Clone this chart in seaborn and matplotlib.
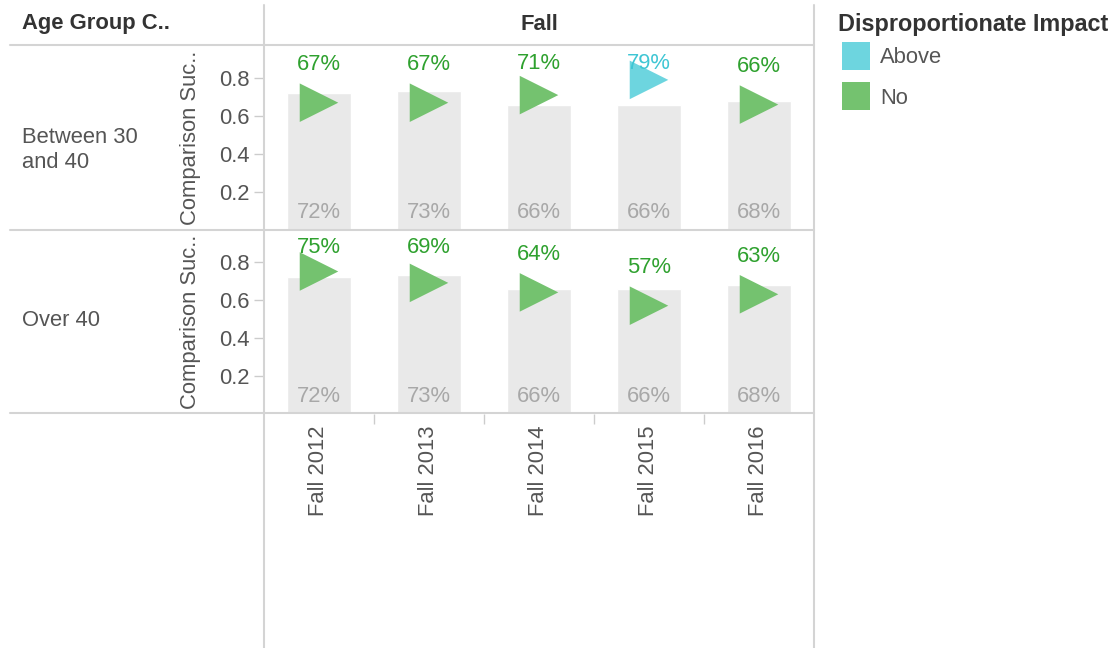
import numpy as np
import pandas as pd
import matplotlib
matplotlib.use("Agg")
import matplotlib.pyplot as plt
from matplotlib.lines import Line2D
from matplotlib.patches import Patch
import seaborn as sns

# ---------------- data ----------------
terms = ["Fall 2012", "Fall 2013", "Fall 2014", "Fall 2015", "Fall 2016"]
age_groups = ["Between 30\nand 40", "Over 40"]
comparison_3040 = [0.72, 0.73, 0.66, 0.66, 0.68]
comparison_40 = [0.72, 0.73, 0.66, 0.66, 0.68]
success_3040 = [0.67, 0.67, 0.71, 0.79, 0.66]
success_40 = [0.75, 0.69, 0.64, 0.57, 0.63]
impact_3040 = ["No", "No", "No", "Above", "No"]
impact_40 = ["No", "No", "No", "No", "No"]
impact_levels = ["Above", "No"]
y_ticks = [0.2, 0.4, 0.6, 0.8]

rows = []
for grp, comp, succ, imp in [(age_groups[0], comparison_3040, success_3040, impact_3040),
                             (age_groups[1], comparison_40, success_40, impact_40)]:
    for t, c, s, i in zip(terms, comp, succ, imp):
        rows.append(dict(group=grp, term=t, comparison=c, success=s, impact=i))
df = pd.DataFrame(rows)

# ---------------- style ----------------
sns.set_theme(style="white")
plt.rcParams["font.family"] = ["Liberation Sans", "DejaVu Sans"]

W, H = 1118, 648
FS = 15.8
marker_pal = {"Above": "#6dd5df", "No": "#74c26f"}
text_pal = {"Above": "#3fc6d4", "No": "#2fa12f"}
bar_color = "#e9e9e9"
bar_text = "#a8a8a8"
grid_col = "#d4d4d4"
label_col = "#555555"
head_col = "#333333"

fig = plt.figure(figsize=(W / 100, H / 100), dpi=100)

def fx(px):
    return px / W

def fy(py):
    return 1 - py / H

panels = [(45, 230), (230, 414)]
axes = []
for r, (top, bot) in enumerate(panels):
    ax = fig.add_axes([fx(264), fy(bot), fx(814) - fx(264), (bot - top) / H])
    sub = df[df["group"] == age_groups[r]]
    sns.barplot(data=sub, x="term", y="comparison", order=terms, color=bar_color,
                width=0.58, saturation=1, ax=ax, errorbar=None)
    sns.scatterplot(data=sub, x="term", y="success", hue="impact", hue_order=impact_levels,
                    palette=marker_pal, marker=">", s=770, linewidth=0, ax=ax, legend=False,
                    zorder=3)
    ax.set_xlim(-0.5, len(terms) - 0.5)
    ax.set_ylim(0, (bot - top) / 190)
    for i, (c, s, imp) in enumerate(zip(sub["comparison"], sub["success"], sub["impact"])):
        ax.text(i, 0.09, f"{round(c * 100):d}%", ha="center", va="center",
                fontsize=FS, color=bar_text, zorder=4)
        ly = min(s + 0.20, 0.875)
        ax.text(i, ly, f"{round(s * 100):d}%", ha="center", va="center",
                fontsize=FS, color=text_pal[imp], zorder=4)
    for sp in ax.spines.values():
        sp.set_visible(False)
    ax.set_yticks(y_ticks)
    ax.set_yticklabels([f"{v:.1f}" for v in y_ticks])
    ax.tick_params(axis="y", left=True, length=7, width=1, color="#cccccc", pad=3.5,
                   labelsize=FS, labelcolor=label_col)
    ax.set_ylabel("Comparison Suc..", fontsize=FS, color=label_col)
    ax.yaxis.set_label_coords(-0.115, 0.5)
    ax.set_xlabel("")
    if r == 0:
        ax.set_xticks([])
    else:
        ax.set_xticks(range(len(terms)))
        ax.set_xticklabels(terms, rotation=90)
        ax.tick_params(axis="x", which="major", bottom=True, length=0, pad=8,
                       labelsize=FS, labelcolor=label_col)
        ax.set_xticks([i + 0.5 for i in range(len(terms) - 1)], minor=True)
        ax.tick_params(axis="x", which="minor", bottom=True, length=7, width=1,
                       color="#cccccc")
    ax.patch.set_alpha(0)
    axes.append(ax)

# ---------------- frame lines ----------------
for py in [45, 230, 413]:
    fig.add_artist(Line2D([fx(10), fx(814)], [fy(py), fy(py)], transform=fig.transFigure,
                          color=grid_col, lw=1.5))
for px in [264, 814]:
    fig.add_artist(Line2D([fx(px), fx(px)], [fy(5), fy(648)], transform=fig.transFigure,
                          color=grid_col, lw=1.5))

# ---------------- headers ----------------
fig.text(fx(22), fy(24), "Age Group C..", ha="left", va="center", fontsize=FS,
         fontweight="bold", color=head_col)
fig.text(fx(539), fy(24), "Fall", ha="center", va="center", fontsize=FS,
         fontweight="bold", color=head_col)
fig.text(fx(22), fy(150), age_groups[0], ha="left", va="center", fontsize=FS,
         color=label_col, linespacing=1.2)
fig.text(fx(22), fy(321), age_groups[1], ha="left", va="center", fontsize=FS,
         color=label_col)

# ---------------- legend ----------------
fig.text(fx(838), fy(24), "Disproportionate Impact", ha="left", va="center",
         fontsize=16.8, fontweight="bold", color=head_col)
handles = [Patch(facecolor=marker_pal[k], edgecolor="none", label=k) for k in impact_levels]
leg = fig.legend(handles=handles, loc="upper left",
                 bbox_to_anchor=(fx(842), fy(42)), frameon=False, fontsize=FS,
                 handlelength=1.28, handleheight=1.6,
                 handletextpad=0.45, labelspacing=0.55, borderpad=0, borderaxespad=0)
for t in leg.get_texts():
    t.set_color(label_col)

fig.savefig("out.png", dpi=100)
